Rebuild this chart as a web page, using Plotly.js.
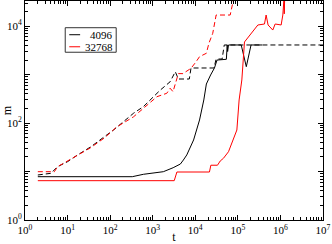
<!DOCTYPE html>
<html><head><meta charset="utf-8">
<script src="https://cdn.plot.ly/plotly-3.0.1.min.js"></script>
<style>html,body{margin:0;padding:0;background:#fff}#c{width:332px;height:244px}</style>
</head><body><div id="c"></div>
<script>
// black solid (4096)
var tBlackSolid = [2, 331, 603, 1778, 3020, 4467, 5248, 6310, 9120, 12590, 15850, 18200, 22900, 28200, 32400, 53700, 56200, 57500, 60300, 120000, 158000, 204000, 371000];
var mBlackSolid = [7.83, 7.83, 8.77, 9.93, 12.0, 14.3, 17.3, 22, 44.8, 116, 300, 641, 984, 1372, 2000, 2074, 4096, 3000, 4096, 4096, 1460, 4096, 4096];
// black dashed
var tBlackDash = [2, 4.07, 5.82, 10, 17.2, 35.5, 72.4, 120, 355, 603, 1047, 1514, 2570, 3390, 4000, 7240, 7940, 27500, 30900, 42700, 47900, 1e7];
var mBlackDash = [8.49, 9.2, 12.6, 16, 22, 32.6, 52, 72, 160, 218, 351, 482, 715, 1150, 813, 813, 1372, 1372, 2100, 2100, 4096, 4096];
// red dashed
var tRedDash = [2, 4.9, 5.82, 10, 17, 33.9, 72.4, 145, 355, 724, 1259, 2140, 2570, 3000, 4000, 5130, 7940, 10470, 12590, 18200, 20900, 25700, 30900, 66100, 81300];
var mRedDash = [9.93, 9.93, 12.6, 16.5, 20.9, 30.6, 49, 84, 135, 236, 351, 412, 523, 445, 1050, 1050, 1350, 1850, 2350, 2760, 4440, 7130, 17000, 17000, 40000];
// red solid (32768)
var tRedSolid = [2, 3200, 3700, 21500, 23200, 33200, 38500, 45900, 60300, 72400, 94800, 107000, 124000, 143000, 295000, 422000, 461000, 513000, 661000, 752000, 1040000, 1138000, 1222000, 1230000, 1245000, 1260000, 1275000];
var mRedSolid = [6.48, 6.48, 9.79, 9.79, 13.5, 13.5, 16.5, 18.8, 25.7, 38.3, 72, 300, 776, 4720, 10590, 11100, 17000, 10590, 8330, 11100, 10600, 17000, 40000, 18000, 50000, 20000, 60000];

var legendNames = ["4096", "32768"];
var legendColors = ["#000000", "#ff0000"];

var xTickVals = [1, 10, 100, 1000, 1e4, 1e5, 1e6, 1e7];
var xTickText = ["10<sup>0</sup>", "10<sup>1</sup>", "10<sup>2</sup>", "10<sup>3</sup>", "10<sup>4</sup>", "10<sup>5</sup>", "10<sup>6</sup>", "10<sup>7</sup>"];
var yTickVals = [1, 10, 100, 1000, 1e4];
var yTickText = ["10<sup>0</sup>", " ", "10<sup>2</sup>", " ", "10<sup>4</sup>"];

function minorVals(maxExp) {
  var v = [];
  for (var e = 0; e < maxExp; e++) for (var k = 2; k <= 9; k++) v.push(k * Math.pow(10, e));
  return v;
}

var dashPat = "5px,3px";
var traces = [
  {x: tBlackDash, y: mBlackDash, mode: "lines", line: {color: "#000000", width: 1, dash: dashPat}},
  {x: tRedDash, y: mRedDash, mode: "lines", line: {color: "#ff0000", width: 1, dash: dashPat}},
  {x: tBlackSolid, y: mBlackSolid, mode: "lines", line: {color: "#000000", width: 1}},
  {x: tRedSolid, y: mRedSolid, mode: "lines", line: {color: "#ff0000", width: 1}}
];

var font = {family: "Liberation Serif", size: 11, color: "#000"};
var axisCommon = {
  type: "log", showgrid: false, zeroline: false, showline: true, linecolor: "#000", linewidth: 1,
  mirror: "allticks", ticks: "inside", ticklen: 5, tickwidth: 1, tickcolor: "#000",
  tickfont: font, tickmode: "array"
};
var xaxis = Object.assign({}, axisCommon, {
  range: [0, 7], tickvals: xTickVals, ticktext: xTickText,
  minor: {tickvals: minorVals(7), ticklen: 3, ticks: "inside", tickcolor: "#000", showgrid: false},
  title: {text: "t", font: {family: "Liberation Serif", size: 12, color: "#000"}, standoff: 3}
});
var yaxis = Object.assign({}, axisCommon, {
  range: [0, 4.52], tickvals: yTickVals, ticktext: yTickText,
  minor: {tickvals: minorVals(5), ticklen: 3, ticks: "inside", tickcolor: "#000", showgrid: false},
  title: {text: "m", font: {family: "Liberation Serif", size: 12, color: "#000"}, standoff: 2}
});

var shapes = [
  {type: "rect", xref: "paper", yref: "paper", x0: 0.135, x1: 0.306, y0: 0.766, y1: 0.878, line: {color: "#333", width: 1}, fillcolor: "rgba(0,0,0,0)"}
];
var annotations = [];
var legY = [0.846, 0.791];
for (var i = 0; i < legendNames.length; i++) {
  shapes.push({type: "line", xref: "paper", yref: "paper", x0: 0.1485, x1: 0.185, y0: legY[i], y1: legY[i], line: {color: legendColors[i], width: 1}});
  annotations.push({xref: "paper", yref: "paper", x: 0.298, y: legY[i], xanchor: "right", yanchor: "middle", text: legendNames[i], showarrow: false, borderpad: 0, font: {family: "Liberation Serif", size: 11, color: "#000"}});
}

var layout = {
  width: 332, height: 244,
  margin: {l: 25, r: 9, t: 1, b: 24, pad: 0},
  paper_bgcolor: "#fff", plot_bgcolor: "#fff",
  showlegend: false,
  xaxis: xaxis, yaxis: yaxis,
  shapes: shapes, annotations: annotations
};
Plotly.newPlot("c", traces, layout, {staticPlot: true, displayModeBar: false});
</script>
</body></html>
